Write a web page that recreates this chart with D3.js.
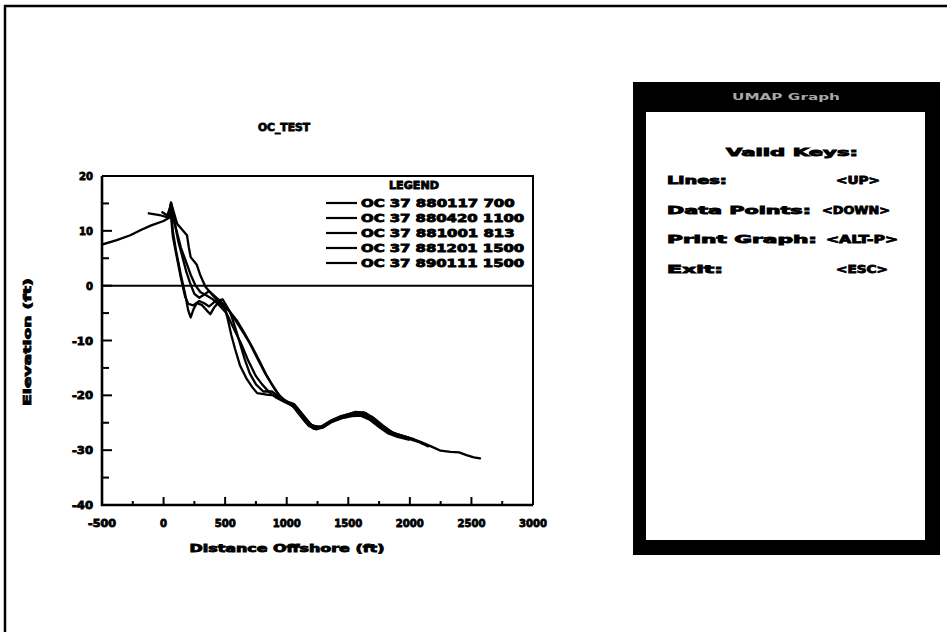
<!DOCTYPE html>
<html>
<head>
<meta charset="utf-8">
<script src="https://cdn.jsdelivr.net/npm/d3@7"></script>
<style>
  html, body { margin: 0; padding: 0; background: #fff; }
  svg { display: block; }
  text { font-family: "DejaVu Sans", sans-serif; font-weight: bold; fill: #000; }
</style>
</head>
<body>
<svg id="chart" width="947" height="632"></svg>
<script>
// ---------------- DATA ----------------
const chartTitle = "OC_TEST";
const xTitle = "Distance Offshore (ft)";
const yTitle = "Elevation (ft)";
const xTicks = [-500, 0, 500, 1000, 1500, 2000, 2500, 3000];
const yTicks = [20, 10, 0, -10, -20, -30, -40];
const legendTitle = "LEGEND";
const seriesNames = [
  "OC 37 880117 700",
  "OC 37 880420 1100",
  "OC 37 881001 813",
  "OC 37 881201 1500",
  "OC 37 890111 1500"
];

const s1Dist = [-500,-380,-270,-180,-100,0,45,60,110,190,205,220,270,300,340,400,470,540,600,660,720,780,840,900,960,1010,1060,1130,1200,1270,1330,1400,1480,1560,1620,1690,1760,1840,1910,1980,2060,2120,2190,2250,2330,2400,2460,2520,2570];
const s1Elev = [7.5,8.3,9.2,10.2,11,11.8,12.4,15.2,11.3,9.2,7,5.2,3.8,1.8,-0.2,-1.8,-3.5,-4.8,-6.5,-8.8,-11.2,-13.8,-16.5,-18.8,-20.6,-21.2,-21.6,-23.5,-25.4,-25.9,-25.2,-24.3,-23.7,-23.1,-23.3,-24.1,-25.4,-26.6,-27.3,-27.7,-28.3,-28.8,-29.5,-30.1,-30.3,-30.4,-30.9,-31.3,-31.5];

const s2Dist = [-120,-20,40,58,75,100,140,175,200,220,245,270,310,350,380,410,450,490,520,550,580,620,670,720,760,850,910,970,1050,1120,1180,1240,1300,1370,1450,1540,1610,1680,1760,1830,1920,2000,2080,2150];
const s2Elev = [13.2,12.8,12.4,14.8,10,6.5,2,-1.5,-4.5,-5.8,-4.2,-3.2,-3.5,-4.5,-5.2,-4,-3,-3.5,-6,-9,-11.5,-14.5,-16.8,-18.5,-19.6,-19.9,-20,-20.8,-22,-24,-25.6,-26.2,-25.8,-24.8,-24.1,-23.6,-23.5,-24.3,-25.7,-26.8,-27.5,-28,-28.6,-29.3];

const s3Dist = [-10,30,55,75,105,140,175,200,240,290,330,370,420,480,540,580,620,660,700,750,810,880,940,1000,1080,1150,1220,1290,1360,1440,1530,1600,1670,1750,1820,1900,1990];
const s3Elev = [13.4,12.8,14.2,9,5.5,1.5,-2,-3.3,-3.6,-2.8,-3.2,-3.8,-2.8,-2.5,-4.8,-7.5,-10.5,-13.5,-16,-18,-19.3,-19.3,-20.3,-21.2,-22.5,-24.8,-26.1,-25.9,-24.9,-24.2,-23.8,-23.7,-24.4,-25.8,-26.9,-27.6,-28.1];

const s4Dist = [30,62,90,120,150,185,215,250,290,330,370,410,460,520,580,640,700,760,820,880,940,990,1060,1140,1210,1280,1350,1440,1540,1620,1700,1780,1860,1940,2030,2100];
const s4Elev = [12.6,15,11.5,8,5.5,2.5,0.5,-1.5,-2.2,-1.6,-1,-1.8,-2.8,-4.2,-6.2,-8.3,-10.5,-13.2,-15.8,-18,-20,-21,-22,-24.3,-25.6,-25.7,-24.7,-23.8,-23.2,-23.1,-24,-25.5,-26.8,-27.4,-28,-28.6];

const s5Dist = [65,100,140,180,220,260,300,350,400,450,510,570,630,690,750,800,860,920,990,1080,1160,1230,1300,1380,1470,1560,1640,1720,1800,1880,1960,2040];
const s5Elev = [13.5,10.5,7,4.5,2,0,-1.2,-1.8,-2.5,-3.5,-5,-7.8,-10.6,-13.8,-16.5,-18,-19.5,-20.5,-21.3,-22.2,-24.6,-25.9,-25.6,-24.5,-23.7,-23,-23.2,-24.5,-26,-27,-27.5,-28.1];

const panelTitle = "UMAP Graph";
const panelHeading = "Valid Keys:";
const panelKeys = ["Lines:", "Data Points:", "Print Graph:", "Exit:"];
const panelValues = ["<UP>", "<DOWN>", "<ALT-P>", "<ESC>"];

// ---------------- DRAW ----------------
const svg = d3.select("#chart");
const series = [
  {name: seriesNames[0], d: s1Dist, e: s1Elev},
  {name: seriesNames[1], d: s2Dist, e: s2Elev},
  {name: seriesNames[2], d: s3Dist, e: s3Elev},
  {name: seriesNames[3], d: s4Dist, e: s4Elev},
  {name: seriesNames[4], d: s5Dist, e: s5Elev}
];

// page frame (left and top edges)
svg.append("line").attr("x1", 5).attr("x2", 5).attr("y1", 5).attr("y2", 632)
  .attr("stroke", "#000").attr("stroke-width", 2.5);
svg.append("line").attr("x1", 4).attr("x2", 947).attr("y1", 6).attr("y2", 6)
  .attr("stroke", "#000").attr("stroke-width", 2.5);

const L = 102, R = 533, T = 176, B = 505;
const x = d3.scaleLinear().domain([-500, 3000]).range([L, R]);
const y = d3.scaleLinear().domain([-40, 20]).range([B, T]);

const g = svg.append("g");

svg.append("defs").append("clipPath").attr("id", "clip")
  .append("rect").attr("x", L).attr("y", T).attr("width", R - L).attr("height", B - T);

// zero line
g.append("line").attr("x1", L).attr("x2", R).attr("y1", y(0)).attr("y2", y(0))
  .attr("stroke", "#000").attr("stroke-width", 2);

// data lines
const line = d3.line().x(p => x(p[0])).y(p => y(p[1]));
g.append("g").attr("clip-path", "url(#clip)")
  .selectAll("path").data(series).join("path")
  .attr("d", s => line(s.d.map((v, i) => [v, s.e[i]])))
  .attr("fill", "none").attr("stroke", "#000").attr("stroke-width", 2.3)
  .attr("stroke-linejoin", "round").attr("stroke-linecap", "round");

// inward ticks
const xMinor = d3.range(-500, 3001, 250);
const yMinor = d3.range(-40, 21, 5);
g.selectAll(".xt").data(xMinor).join("line")
  .attr("x1", d => x(d)).attr("x2", d => x(d))
  .attr("y1", B).attr("y2", d => B - (d % 500 === 0 ? 8 : 4))
  .attr("stroke", "#000").attr("stroke-width", 2);
g.selectAll(".yt").data(yMinor).join("line")
  .attr("x1", L).attr("x2", d => L + (d % 10 === 0 ? 10 : 7))
  .attr("y1", d => y(d)).attr("y2", d => y(d))
  .attr("stroke", "#000").attr("stroke-width", 2);

// plot border
g.append("path").attr("d", `M${L},${T}H${R}V${B}`)
  .attr("fill", "none").attr("stroke", "#000").attr("stroke-width", 2);
g.append("path").attr("d", `M${L},${T}V${B}H${R}`)
  .attr("fill", "none").attr("stroke", "#000").attr("stroke-width", 2.6);

const heavy = sel => sel.attr("stroke", "#000").attr("stroke-width", 0.8)
  .attr("font-size", 10).attr("lengthAdjust", "spacingAndGlyphs");

// tick labels
g.selectAll(".xl").data(xTicks).join("text")
  .attr("x", d => x(d)).attr("y", 527).attr("text-anchor", "middle")
  .text(d => String(d)).call(heavy)
  .attr("textLength", d => String(d).length * 7);
g.selectAll(".yl").data(yTicks).join("text")
  .attr("x", 93).attr("y", d => y(d) + 4).attr("text-anchor", "end")
  .text(d => String(d)).call(heavy)
  .attr("textLength", d => String(d).length * 7);

// titles
g.append("text").attr("x", 284).attr("y", 131).attr("text-anchor", "middle")
  .text(chartTitle).call(heavy).attr("textLength", 52);
g.append("text").attr("x", 287).attr("y", 552).attr("text-anchor", "middle")
  .text(xTitle).call(heavy).attr("textLength", 195);
g.append("text").attr("transform", "translate(31,342) rotate(-90)").attr("text-anchor", "middle")
  .text(yTitle).call(heavy).attr("textLength", 128);

// legend
g.append("text").attr("x", 414).attr("y", 189).attr("text-anchor", "middle")
  .text(legendTitle).call(heavy).attr("textLength", 50);
const lg = g.selectAll(".lg").data(series).join("g")
  .attr("transform", (s, i) => `translate(0,${203 + i * 15})`);
lg.append("line").attr("x1", 326).attr("x2", 357).attr("y1", 0).attr("y2", 0)
  .attr("stroke", "#000").attr("stroke-width", 2.2);
lg.append("text").attr("x", 361).attr("y", 4).text(s => s.name).call(heavy)
  .attr("textLength", s => s.name.length * 9.6);

// right panel
const P = svg.append("g");
P.append("rect").attr("x", 633).attr("y", 82).attr("width", 307).attr("height", 473).attr("fill", "#000");
P.append("rect").attr("x", 646).attr("y", 112).attr("width", 279).attr("height", 428).attr("fill", "#fff");
P.append("text").attr("x", 786).attr("y", 100).attr("text-anchor", "middle")
  .attr("font-size", 9).attr("font-weight", "normal").style("fill", "#a8a8a8")
  .attr("textLength", 108).attr("lengthAdjust", "spacingAndGlyphs").text(panelTitle);
P.append("text").attr("x", 792).attr("y", 156).attr("text-anchor", "middle")
  .text(panelHeading).call(heavy).attr("textLength", 132);
const rowY = [184, 214, 243, 273];
const keyW = [60, 144, 150, 56];
const valX = [836, 822, 826, 836];
const valW = [44, 68, 72, 52];
P.selectAll(".pk").data(panelKeys).join("text")
  .attr("x", 667).attr("y", (d, i) => rowY[i]).text(d => d).call(heavy)
  .attr("textLength", (d, i) => keyW[i]);
P.selectAll(".pv").data(panelValues).join("text")
  .attr("x", (d, i) => valX[i]).attr("y", (d, i) => rowY[i]).text(d => d).call(heavy)
  .attr("textLength", (d, i) => valW[i]);
</script>
</body>
</html>
